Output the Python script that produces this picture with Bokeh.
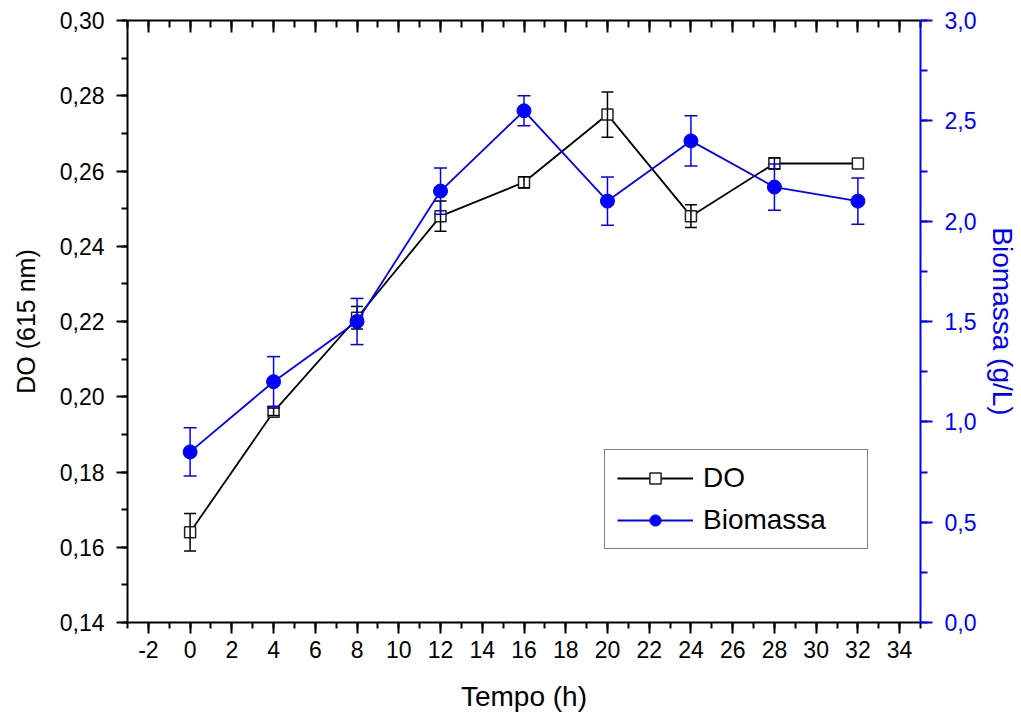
from bokeh.plotting import figure
from bokeh.models import (ColumnDataSource, Range1d, LinearAxis, FixedTicker, CustomJSTickFormatter,
                          Whisker, TeeHead, Legend, LegendItem)
from bokeh.embed import file_html
from bokeh.resources import INLINE

# ---- data ----
tempo = [0, 4, 8, 12, 16, 20, 24, 28, 32]
do_vals = [0.164, 0.196, 0.221, 0.248, 0.257, 0.275, 0.248, 0.262, 0.262]
do_err = [0.005, 0.001, 0.003, 0.004, 0.0015, 0.006, 0.003, 0.0015, 0.0]
bio_vals = [0.85, 1.20, 1.50, 2.15, 2.55, 2.10, 2.40, 2.17, 2.10]
bio_err = [0.12, 0.125, 0.115, 0.115, 0.075, 0.12, 0.125, 0.115, 0.115]

x_ticks = list(range(-2, 35, 2))
x_minor = list(range(-3, 36, 1))
y_ticks = [0.14, 0.16, 0.18, 0.20, 0.22, 0.24, 0.26, 0.28, 0.30]
y_minor = [round(0.14 + 0.01 * i, 2) for i in range(17)]
y2_ticks = [0.0, 0.5, 1.0, 1.5, 2.0, 2.5, 3.0]
y2_minor = [0.25 * i for i in range(13)]

FONT = "Liberation Sans"
BLUE = "#0000FF"

p = figure(width=1021, height=716, output_backend="svg", toolbar_location=None,
           x_range=Range1d(-3, 35), y_range=Range1d(0.14, 0.30),
           min_border_left=127, min_border_right=100, min_border_top=20, min_border_bottom=94)
p.extra_y_ranges = {"bio": Range1d(0.0, 3.0)}
p.grid.visible = False
p.outline_line_color = None
p.background_fill_color = "white"
p.border_fill_color = "white"

TICK_SIZE = "23px"

# bottom axis
xa = p.xaxis[0]
xa.ticker = FixedTicker(ticks=x_ticks, minor_ticks=x_minor)
xa.formatter = CustomJSTickFormatter(code="return tick.toFixed(0);")
xa.axis_label = "Tempo (h)"

# left axis
ya = p.yaxis[0]
ya.ticker = FixedTicker(ticks=y_ticks, minor_ticks=y_minor)
ya.formatter = CustomJSTickFormatter(code="return tick.toFixed(2).replace('.', ',');")
ya.axis_label = "DO (615 nm)"

for ax in (xa, ya):
    ax.axis_line_width = 2
    ax.axis_line_color = "black"
    ax.major_tick_line_width = 2
    ax.minor_tick_line_width = 2
    ax.major_tick_out = 11
    ax.major_tick_in = 0
    ax.minor_tick_out = 6
    ax.minor_tick_in = 0
    ax.major_label_text_font = FONT
    ax.major_label_text_font_size = TICK_SIZE
    ax.major_label_text_color = "black"
    ax.axis_label_text_font = FONT
    ax.axis_label_text_font_style = "normal"
    ax.axis_label_text_color = "black"
xa.major_label_standoff = 7
ya.major_label_standoff = 12
xa.axis_label_text_font_size = "28px"
ya.axis_label_text_font_size = "25px"
xa.axis_label_standoff = 20
ya.axis_label_standoff = 17

# top axis (mirror, inward ticks, no labels)
top = LinearAxis(ticker=FixedTicker(ticks=x_ticks, minor_ticks=x_minor),
                 formatter=CustomJSTickFormatter(code="return '';"),
                 major_label_standoff=0,
                 axis_line_width=2, major_tick_line_width=2, minor_tick_line_width=2,
                 major_tick_in=12, major_tick_out=0, minor_tick_in=7, minor_tick_out=0)
p.add_layout(top, "above")

# right axis (biomass)
ra = LinearAxis(y_range_name="bio", ticker=FixedTicker(ticks=y2_ticks, minor_ticks=y2_minor),
                formatter=CustomJSTickFormatter(code="return tick.toFixed(1).replace('.', ',');"),
                axis_label="Biomassa (g/L)")
ra.axis_line_width = 2
ra.axis_line_color = BLUE
ra.major_tick_line_color = BLUE
ra.minor_tick_line_color = BLUE
ra.major_tick_line_width = 2
ra.minor_tick_line_width = 2
ra.major_tick_out = 12
ra.major_tick_in = 0
ra.minor_tick_out = 7
ra.minor_tick_in = 0
ra.major_label_text_font = FONT
ra.major_label_text_font_size = TICK_SIZE
ra.major_label_text_color = BLUE
ra.major_label_standoff = 12
ra.axis_label_text_font = FONT
ra.axis_label_text_font_size = "28px"
ra.axis_label_text_font_style = "normal"
ra.axis_label_text_color = BLUE
ra.axis_label_standoff = 8
p.add_layout(ra, "right")

# ---- DO series ----
do_w = [i for i, e in enumerate(do_err) if e > 0]
do_src = ColumnDataSource(dict(x=[tempo[i] for i in do_w],
                               lo=[do_vals[i] - do_err[i] for i in do_w],
                               hi=[do_vals[i] + do_err[i] for i in do_w]))
w1 = Whisker(base="x", lower="lo", upper="hi", source=do_src, dimension="height",
             line_color="black", line_width=1.5, level="glyph",
             upper_head=TeeHead(size=12, line_color="black", line_width=1.5),
             lower_head=TeeHead(size=12, line_color="black", line_width=1.5))
p.add_layout(w1)
l1 = p.line(tempo, do_vals, line_color="black", line_width=1.8)
m1 = p.scatter(tempo, do_vals, marker="square", size=11, fill_color="white",
               line_color="#222222", line_width=1.5)

# ---- Biomass series ----
bio_src = ColumnDataSource(dict(x=tempo,
                                lo=[v - e for v, e in zip(bio_vals, bio_err)],
                                hi=[v + e for v, e in zip(bio_vals, bio_err)]))
w2 = Whisker(base="x", lower="lo", upper="hi", source=bio_src, dimension="height",
             y_range_name="bio", line_color=BLUE, line_width=1.5, level="glyph",
             upper_head=TeeHead(size=13, line_color=BLUE, line_width=1.5),
             lower_head=TeeHead(size=13, line_color=BLUE, line_width=1.5))
p.add_layout(w2)
l2 = p.line(tempo, bio_vals, y_range_name="bio", line_color=BLUE, line_width=1.8)
m2 = p.scatter(tempo, bio_vals, y_range_name="bio", marker="circle", size=14,
               fill_color=BLUE, line_color=BLUE)

legend = Legend(items=[LegendItem(label="DO", renderers=[l1, m1]),
                       LegendItem(label="Biomassa", renderers=[l2, m2])],
                location=(477, 73), orientation="vertical",
                glyph_width=76, glyph_height=28, label_height=28, label_width=152,
                label_standoff=10, spacing=10, padding=12, margin=0,
                label_text_font=FONT, label_text_font_size="28px", label_text_color="black",
                border_line_color="black", border_line_width=1.5,
                background_fill_color="white", background_fill_alpha=1.0)
p.add_layout(legend, "center")

open("out.html", "w").write(file_html(p, INLINE))
